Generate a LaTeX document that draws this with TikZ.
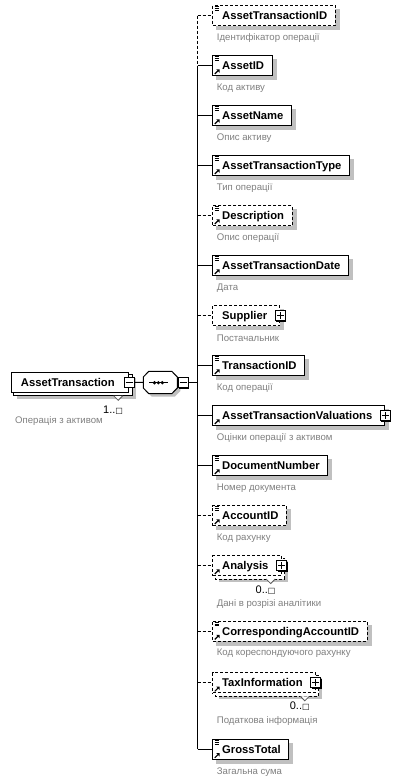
\documentclass[tikz,border=0pt]{standalone}
\usepackage{fontspec}
\setmainfont{Liberation Sans}
\newfontfamily\symfont{DejaVu Sans}
\usetikzlibrary{calc,backgrounds}
\definecolor{shadowc}{RGB}{192,192,192}
\definecolor{labelc}{RGB}{128,128,128}
\tikzset{
  elembox/.style={draw, fill=white, line width=1pt, minimum height=20pt, inner xsep=8pt, inner ysep=0pt,
    font=\bfseries\fontsize{11.25}{12}\selectfont, text height=8.1pt, text depth=0pt, anchor=west,
    execute at begin node=\kern1.4pt},
  optbox/.style={dash pattern=on 3pt off 2pt},
  withpm/.style={execute at end node=\kern4.7pt},
  conn/.style={line width=1pt},
  optconn/.style={line width=1pt, dash pattern=on 3pt off 2pt},
  desc/.style={font=\fontsize{9.6}{10}\selectfont, text=labelc, anchor=west, inner sep=0pt},
  pmbox/.style={draw, fill=white, line width=1pt, minimum width=10pt, minimum height=10pt, inner sep=0pt},
  mult/.style={font=\fontsize{11}{12}\selectfont, anchor=east, inner sep=0pt},
}
\newcommand\dropshadow[1]{\begin{scope}[on background layer]\fill[shadowc] ($(#1.north west)+(4,4)$) rectangle ($(#1.south east)+(4,4)$);\end{scope}}
\newcommand\stackback[2]{%
  \begin{scope}[on background layer]
  \fill[shadowc] ($(#1.north west)+(6.5,6)$) rectangle ($(#1.south east)+(6.5,6)$);
  \draw[fill=white,line width=1pt,#2] ($(#1.north west)+(3,3)$) rectangle ($(#1.south east)+(3,3)$);
  \end{scope}
  \draw[fill=white, draw=black!65, line width=0.8pt] ($(#1.south east)+(-15.5,3)$) -- ++(4.5,4.5) -- ++(4.5,-4.5);}
\newcommand\simplelines[1]{\draw[line width=0.8pt] ($(#1.north west)+(2.2,1.6)$) -- ++(4.6,0) ($(#1.north west)+(2.2,3.4)$) -- ++(4.6,0) ($(#1.north west)+(2.2,5.2)$) -- ++(4.6,0);}
\newcommand\refarrow[1]{\draw[line width=1.2pt] ($(#1.south west)+(2.5,-2)$) -- ++(3.2,-3.2); \fill ($(#1.south west)+(4,-6.6)$) -- ++(3.4,0) -- ++(0,3.4) -- cycle;}
\newcommand\plusbox[2]{\fill ($(#2)+(-4,-4)$) rectangle ++(10,10); \node[pmbox] (#1) at (#2) {};
  \draw[line width=1pt] ($(#1.center)+(-3.5,0)$) -- ++(7,0) ($(#1.center)+(0,-3.5)$) -- ++(0,7);}
\begin{document}
\begin{tikzpicture}[x=1pt,y=-1pt]
\useasboundingbox (0,0) rectangle (401,782);
\begin{scope}[on background layer]\fill[white] (0,0) rectangle (401,782);\end{scope}

% root
\node[elembox, execute at begin node=\kern0.3pt, execute at end node=\kern6pt] (root) at (10.7,382.3) {AssetTransaction};
\stackback{root}{solid}
\fill ($(root.east)+(-4,-4)$) rectangle ++(10,10);
\node[pmbox] (rootm) at (root.east) {};
\draw[line width=1pt] ($(rootm.center)+(-3.5,0)$) -- ++(7,0);
\node[mult] (rootmult) at ($(root.east)+(-6,27.7)$) {1..{\symfont\fontsize{8}{8}\selectfont □}};
\node[desc] (rootd) at (15,421) {Операція з активом};

% sequence
\node[minimum width=34pt, minimum height=22.3pt, inner sep=0pt] (seq) at (160.3,382.5) {};
\begin{scope}[shift={(160.3,382.5)}]
  \fill[shadowc] (-8.5,-8.2) -- (14.5,-8.2) -- (20,-2.5) -- (20,8.5) -- (14.5,14.2) -- (-8.5,14.2) -- (-14,8.5) -- (-14,-2.5) -- cycle;
  \draw[fill=white, line width=1pt] (-11.5,-11.2) -- (11.5,-11.2) -- (17,-5.5) -- (17,5.5) -- (11.5,11.2) -- (-11.5,11.2) -- (-17,5.5) -- (-17,-5.5) -- cycle;
  \draw[line width=1pt] (-11,0.2) -- (8,0.2);
  \foreach \d in {-5.8,-1.9,2.0} \fill (\d,0.2) circle (1.8);
\end{scope}
\fill ($(seq.east)+(1,-4)$) rectangle ++(10,10);
\node[pmbox, anchor=west] (seqm) at (seq.east) {};
\draw[line width=1pt] ($(seqm.center)+(-3.5,0)$) -- ++(7,0);
\draw[conn] (rootm.east) -- (seq.west);
\coordinate (vmid) at (197.5,382.5);
\draw[conn] (seqm.east) -- (vmid);

% vertical anchor points
\coordinate (v1) at (197.5,15.5);
\coordinate (v2) at (197.5,65.5);
\coordinate (v3) at (197.5,115.5);
\coordinate (v4) at (197.5,165.5);
\coordinate (v5) at (197.5,215.5);
\coordinate (v6) at (197.5,265.5);
\coordinate (v7) at (197.5,315.5);
\coordinate (v8) at (197.5,365.5);
\coordinate (v9) at (197.5,415.5);
\coordinate (v10) at (197.5,465.5);
\coordinate (v11) at (197.5,515.5);
\coordinate (v12) at (197.5,565.5);
\coordinate (v13) at (197.5,631);
\coordinate (v14) at (197.5,682.8);
\coordinate (v15) at (197.5,749.3);
\draw[optconn] (v1) -- (v2);
\draw[conn] (v2) -- (v15);

% elements
\node[elembox, optbox] (n1) at (212.3,15.5) {AssetTransactionID};
\dropshadow{n1}\simplelines{n1}
\draw[optconn] (v1) -- (n1.west);
\node[desc] (d1) at (216.7,38) {Ідентифікатор операції};

\node[elembox] (n2) at (212.3,65.5) {AssetID};
\dropshadow{n2}\simplelines{n2}\refarrow{n2}
\draw[conn] (v2) -- (n2.west);
\node[desc] (d2) at (216.7,88) {Код активу};

\node[elembox] (n3) at (212.3,115.5) {AssetName};
\dropshadow{n3}\simplelines{n3}\refarrow{n3}
\draw[conn] (v3) -- (n3.west);
\node[desc] (d3) at (216.7,138) {Опис активу};

\node[elembox] (n4) at (212.3,165.5) {AssetTransactionType};
\dropshadow{n4}\simplelines{n4}\refarrow{n4}
\draw[conn] (v4) -- (n4.west);
\node[desc] (d4) at (216.7,188) {Тип операції};

\node[elembox, optbox] (n5) at (212.3,215.5) {Description};
\dropshadow{n5}\simplelines{n5}\refarrow{n5}
\draw[optconn] (v5) -- (n5.west);
\node[desc] (d5) at (216.7,238) {Опис операції};

\node[elembox] (n6) at (212.3,265.5) {AssetTransactionDate};
\dropshadow{n6}\simplelines{n6}\refarrow{n6}
\draw[conn] (v6) -- (n6.west);
\node[desc] (d6) at (216.7,288) {Дата};

\node[elembox, optbox, withpm] (n7) at (212.3,315.5) {Supplier};
\dropshadow{n7}\plusbox{p7}{n7.east}
\draw[optconn] (v7) -- (n7.west);
\node[desc] (d7) at (216.7,338) {Постачальник};

\node[elembox] (n8) at (212.3,365.5) {TransactionID};
\dropshadow{n8}\simplelines{n8}\refarrow{n8}
\draw[conn] (v8) -- (n8.west);
\node[desc] (d8) at (216.7,388) {Код операції};

\node[elembox, withpm] (n9) at (212.3,415.5) {AssetTransactionValuations};
\dropshadow{n9}\refarrow{n9}\plusbox{p9}{n9.east}
\draw[conn] (v9) -- (n9.west);
\node[desc] (d9) at (216.7,438) {Оцінки операції з активом};

\node[elembox] (n10) at (212.3,465.5) {DocumentNumber};
\dropshadow{n10}\simplelines{n10}\refarrow{n10}
\draw[conn] (v10) -- (n10.west);
\node[desc] (d10) at (216.7,488) {Номер документа};

\node[elembox, optbox] (n11) at (212.3,515.5) {AccountID};
\dropshadow{n11}\simplelines{n11}\refarrow{n11}
\draw[optconn] (v11) -- (n11.west);
\node[desc] (d11) at (216.7,538) {Код рахунку};

\node[elembox, optbox, withpm] (n12) at (212.3,565.5) {Analysis};
\stackback{n12}{optbox}\refarrow{n12}\plusbox{p12}{n12.east}
\draw[optconn] (v12) -- (n12.west);
\node[mult] (m12) at ($(n12.east)+(-6,24.5)$) {0..{\symfont\fontsize{8}{8}\selectfont □}};
\node[desc] (d12) at (216.7,604.5) {Дані в розрізі аналітики};

\node[elembox, optbox] (n13) at (212.3,631) {CorrespondingAccountID};
\dropshadow{n13}\simplelines{n13}\refarrow{n13}
\draw[optconn] (v13) -- (n13.west);
\node[desc] (d13) at (216.7,653.5) {Код кореспондуючого рахунку};

\node[elembox, optbox, withpm] (n14) at (212.3,682.8) {TaxInformation};
\stackback{n14}{optbox}\refarrow{n14}\plusbox{p14}{n14.east}
\draw[optconn] (v14) -- (n14.west);
\node[mult] (m14) at ($(n14.east)+(-6,23.5)$) {0..{\symfont\fontsize{8}{8}\selectfont □}};
\node[desc] (d14) at (216.7,721.5) {Податкова інформація};

\node[elembox] (n15) at (212.3,749.3) {GrossTotal};
\dropshadow{n15}\simplelines{n15}\refarrow{n15}
\draw[conn] (v15) -- (n15.west);
\node[desc] (d15) at (216.7,771.8) {Загальна сума};
\end{tikzpicture}
\end{document}
